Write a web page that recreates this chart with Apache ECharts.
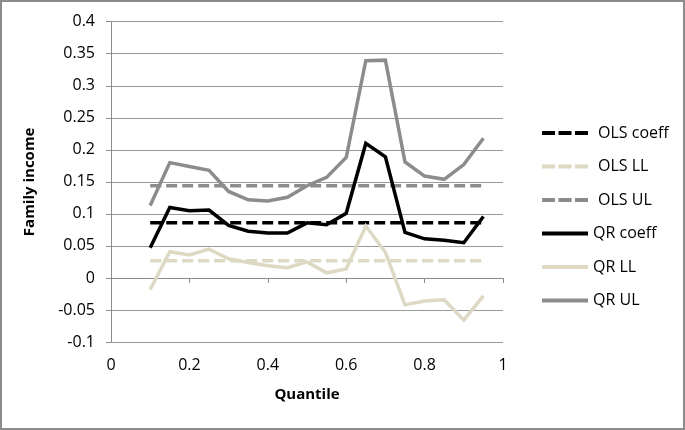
<!DOCTYPE html>
<html>
<head>
<meta charset="utf-8">
<script src="https://cdn.jsdelivr.net/npm/echarts@6/dist/echarts.min.js"></script>
<style>
html,body{margin:0;padding:0;background:#fff;}
#c{width:685px;height:430px;}
</style>
</head>
<body>
<div id="c"></div>
<script>
// Data
const quantiles = [0.1,0.15,0.2,0.25,0.3,0.35,0.4,0.45,0.5,0.55,0.6,0.65,0.7,0.75,0.8,0.85,0.9,0.95];
const qrCoeff = [0.047,0.110,0.105,0.106,0.082,0.073,0.070,0.070,0.086,0.083,0.101,0.210,0.189,0.071,0.061,0.059,0.055,0.096];
const qrLL    = [-0.018,0.041,0.036,0.045,0.030,0.024,0.019,0.016,0.025,0.008,0.014,0.081,0.040,-0.042,-0.036,-0.034,-0.066,-0.028];
const qrUL    = [0.113,0.180,0.174,0.168,0.135,0.122,0.120,0.126,0.144,0.157,0.188,0.339,0.340,0.181,0.159,0.154,0.177,0.218];
const olsCoeff = [0.086,0.086];
const olsLL    = [0.027,0.027];
const olsUL    = [0.144,0.144];
const olsRange = [0.1,0.95];
const seriesNames = ['OLS coeff','OLS LL','OLS UL','QR coeff','QR LL','QR UL'];

const FONT = 'Open Sans';
const pair = (xs, ys) => xs.map((x,i)=>[x, ys[i]]);

const chart = echarts.init(document.getElementById('c'), null, {renderer:'canvas'});
const dash = [11,5];
const DASH_ICON = 'path://M0,0h13v4h-13z M16.5,0h13v4h-13z M33,0h13v4h-13z';
const SOLID_ICON = 'path://M0,0h46v4h-46z';
function mk(name, data, color, dashed){
  return {
    name, type:'line', data, symbol:'none', smooth:false, silent:true,
    lineStyle:{color, width:3.5, type: dashed ? dash : 'solid', cap:'butt', join:'miter'},
    itemStyle:{color},
    animation:false
  };
}
chart.setOption({
  animation:false,
  textStyle:{fontFamily:FONT},
  graphic:[{type:'rect', shape:{x:1,y:1,width:683,height:428}, style:{fill:'none', stroke:'#8c8c8c', lineWidth:2}, silent:true, z:100}],
  grid:{left:111, right:182, top:21.7, bottom:88, containLabel:false},
  legend:{
    orient:'vertical', left:537, top:120,
    itemWidth:46, itemHeight:4, itemGap:17.5,
    itemStyle:{borderWidth:0},
    textStyle:{fontFamily:FONT, fontSize:16, color:'#000'},
    data:seriesNames.map((n,i)=>({name:n, icon: i<3 ? DASH_ICON : SOLID_ICON,
      textStyle:{fontFamily:FONT, fontSize:16, color:'#000', padding:[0,0,0, i<3 ? 5 : 0]}}))
  },
  xAxis:{
    type:'value', min:0, max:1, interval:0.2,
    name:'Quantile', nameLocation:'middle', nameGap:45,
    nameTextStyle:{fontFamily:FONT, fontWeight:'bold', fontSize:15, color:'#000'},
    axisLine:{show:true, lineStyle:{color:'#8c8c8c', width:1}},
    axisTick:{show:true, length:5, inside:false, lineStyle:{color:'#8c8c8c'}},
    axisLabel:{fontFamily:FONT, fontSize:16, color:'#000', margin:15,
      formatter:v=>String(parseFloat(v.toFixed(2)))},
    splitLine:{show:false}
  },
  yAxis:{
    type:'value', min:-0.1, max:0.4, interval:0.05,
    name:'Family income', nameLocation:'middle', nameGap:74, nameRotate:90,
    nameTextStyle:{fontFamily:FONT, fontWeight:'bold', fontSize:15, color:'#000'},
    axisLine:{show:true, onZero:false, lineStyle:{color:'#8c8c8c', width:1}},
    axisTick:{show:true, length:5, lineStyle:{color:'#8c8c8c'}},
    axisLabel:{fontFamily:FONT, fontSize:16, color:'#000', margin:16,
      formatter:v=>String(parseFloat(v.toFixed(2)))},
    splitLine:{show:true, lineStyle:{color:'#9a9a9a', width:1}}
  },
  series:[
    mk('OLS coeff', pair(olsRange, olsCoeff), '#000000', true),
    mk('OLS LL', pair(olsRange, olsLL), '#ddd9c3', true),
    mk('OLS UL', pair(olsRange, olsUL), '#8c8c8c', true),
    mk('QR coeff', pair(quantiles, qrCoeff), '#000000', false),
    mk('QR LL', pair(quantiles, qrLL), '#ddd9c3', false),
    mk('QR UL', pair(quantiles, qrUL), '#8c8c8c', false)
  ]
});
</script>
</body>
</html>
